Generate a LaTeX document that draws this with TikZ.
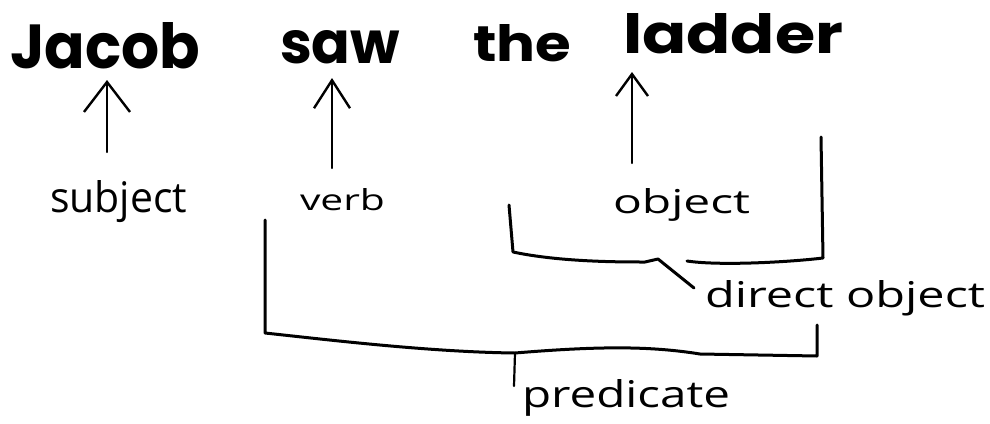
\documentclass[tikz,border=0pt]{standalone}
\usepackage{fontspec}
\usetikzlibrary{arrows.meta}
\newfontfamily\headfont{Poppins}
\newfontfamily\handfont{Open Sans}
\tikzset{
  word/.style={anchor=base west, inner sep=0pt, outer sep=0pt},
  lbl/.style={anchor=base west, inner sep=0pt, outer sep=0pt},
  pen/.style={line width=3pt, line cap=round, line join=round, black},
  uparrow/.style 2 args={line width=2.4pt, line cap=round, line join=round,
    -{Straight Barb[length=#1pt, width=#2pt, line width=2.4pt]}},
}
\begin{document}
\begin{tikzpicture}[x=1pt,y=-1pt]
\useasboundingbox[fill=white] (0,0) rectangle (990,423);
% heading words
\node[word] (jacob)  at (10,68)  {\resizebox{190pt}{46pt}{\headfont\bfseries Jacob}};
\node[word] (saw)    at (280,63) {\resizebox{120pt}{33pt}{\headfont\bfseries saw}};
\node[word] (the)    at (473,61) {\resizebox{98pt}{37pt}{\headfont\bfseries the}};
\node[word] (ladder) at (623,53) {\resizebox{220pt}{40pt}{\headfont\bfseries ladder}};
% labels
\node[lbl] (subject) at (50,212)  {\resizebox{137pt}{32pt}{\handfont subject}};
\node[lbl] (verb)    at (300,210) {\resizebox{85pt}{22pt}{\handfont verb}};
\node[lbl] (object)  at (613,213) {\resizebox{137pt}{25pt}{\handfont object}};
\node[lbl] (dobj)    at (705,307) {\resizebox{280pt}{27pt}{\handfont direct object}};
\node[lbl] (pred)    at (522,407) {\resizebox{208pt}{28pt}{\handfont predicate}};
% arrow ends
\coordinate (a1s) at (107,152); \coordinate (a1e) at (107,80);
\coordinate (a2s) at (332,168); \coordinate (a2e) at (332,78);
\coordinate (a3s) at (632,163); \coordinate (a3e) at (632,72);
\draw[uparrow={30}{46}] (a1s) -- (a1e);
\draw[uparrow={28}{36}] (a2s) -- (a2e);
\draw[uparrow={22}{32}] (a3s) -- (a3e);
% direct object bracket
\coordinate (d1) at (509,205);
\coordinate (d2) at (513,252);
\coordinate (d3) at (658,259);
\coordinate (d4) at (694,288);
\coordinate (d5) at (687,261);
\coordinate (d6) at (823,258);
\coordinate (d7) at (821,137);
\draw[pen] (d1) -- (d2) .. controls (560,262) and (620,262) .. (645,262)
  -- (d3) -- (d4);
\draw[pen] (d5) .. controls (720,266) and (790,262) .. (d6) -- (d7);
% predicate bracket
\coordinate (p1) at (265,220);
\coordinate (p2) at (265,333);
\coordinate (p3) at (515,353);
\coordinate (p4) at (817,356);
\coordinate (p5) at (817,325);
\coordinate (p6) at (514,386);
\draw[pen] (p1) -- (p2) .. controls (330,340) and (430,352) .. (p3)
  .. controls (600,346) and (650,346) .. (700,354) -- (p4) -- (p5);
\draw[pen, line width=2.2pt] (p3) -- (p6);
\end{tikzpicture}
\end{document}
